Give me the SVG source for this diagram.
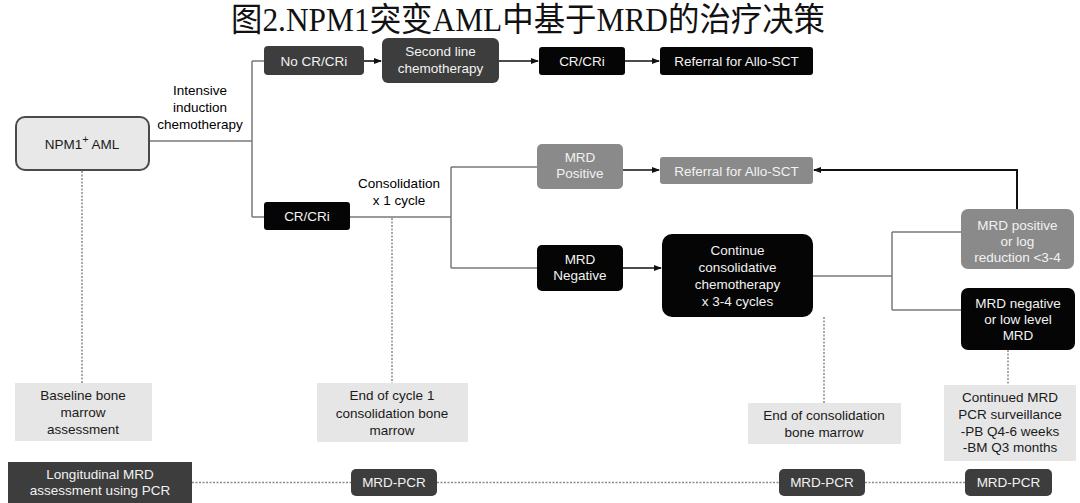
<svg xmlns="http://www.w3.org/2000/svg" width="1080" height="503" viewBox="0 0 1080 503">
<style>
  text { font-family: "Liberation Sans", Arial, sans-serif; font-size: 13.5px; text-anchor: middle; }
  .w { fill: #f2f2f2; }
  .k { fill: #1a1a1a; }
  .dk { fill: #3d3d3d; }
  .bk { fill: #050505; }
  .gr { fill: #8a8a8a; }
  .lt { fill: #e6e6e6; }
  .ln { fill: none; stroke: #7a7a7a; stroke-width: 1.5; }
  .ar { fill: none; stroke: #111; stroke-width: 1.6; marker-end: url(#ah); }
  .dt { fill: none; stroke: #8a8a8a; stroke-width: 1.5; stroke-dasharray: 2 1.5; }
  .title { font-family: "Liberation Serif", "Noto Sans CJK SC", serif; font-size: 33px; fill: #111; }
</style>
<defs>
  <marker id="ah" markerWidth="8" markerHeight="8" refX="7" refY="4" orient="auto" markerUnits="userSpaceOnUse">
    <path d="M0,1 L8,4 L0,7 Z" fill="#111"/>
  </marker>
</defs>
<rect width="1080" height="503" fill="#fff"/>
<text class="title" x="528" y="31" textLength="594" lengthAdjust="spacingAndGlyphs">图2.NPM1突变AML中基于MRD的治疗决策</text>

<g id="connectors">
  <path class="ln" d="M149,141 H252 M252,61 V217 M252,61 H264 M252,217 H264"/>
  <path class="ar" d="M364,61 H381"/>
  <path class="ar" d="M499,61 H538"/>
  <path class="ar" d="M625,61 H659"/>
  <path class="ln" d="M350,217 H451 M451,167 V268 M451,167 H537 M451,268 H537"/>
  <path class="ar" d="M623,170 H659"/>
  <path class="ar" d="M623,268 H661"/>
  <path class="ln" d="M813,276 H892 M892,232 V310 M892,232 H961 M892,310 H961"/>
  <path class="ar" style="stroke-width:2" d="M1017,209 V170 H814"/>
  <path class="dt" d="M82,171 V383 M392,218 V383 M824,317 V403 M1008,350 V385"/>
  <path class="dt" d="M192,482.5 H351 M437,482.5 H779 M865,482.5 H965"/>
  <text x="200" y="95">Intensive</text>
  <text x="200" y="112">induction</text>
  <text x="200" y="129">chemotherapy</text>
  <text x="399" y="188">Consolidation</text>
  <text x="399" y="205">x 1 cycle</text>
</g>

<g id="npm1">
  <rect x="16" y="117" width="133" height="53" rx="9" fill="#e8e8e8" stroke="#4a4a4a" stroke-width="2"/>
  <text class="k" x="82" y="149" font-size="14">NPM1<tspan font-size="11" dy="-6">+</tspan><tspan dy="6"> AML</tspan></text>
</g>
<g id="nocr">
  <rect class="dk" x="264" y="46" width="100" height="29" rx="4"/>
  <text class="w" x="314" y="65.5">No CR/CRi</text>
</g>
<g id="second">
  <rect class="dk" x="382" y="38" width="117" height="45" rx="6"/>
  <text class="w" x="440.5" y="56">Second line</text>
  <text class="w" x="440.5" y="73">chemotherapy</text>
</g>
<g id="crcri1">
  <rect class="bk" x="539" y="47" width="86" height="28" rx="3"/>
  <text class="w" x="582" y="66">CR/CRi</text>
</g>
<g id="referral1">
  <rect class="bk" x="660" y="47" width="153" height="28" rx="3"/>
  <text class="w" x="736.5" y="66" font-size="14">Referral for Allo-SCT</text>
</g>
<g id="crcri2">
  <rect class="bk" x="264" y="202" width="86" height="28" rx="3"/>
  <text class="w" x="307" y="221">CR/CRi</text>
</g>
<g id="mrdpos">
  <rect class="gr" x="537" y="144" width="86" height="45" rx="5"/>
  <text class="w" x="580" y="162">MRD</text>
  <text class="w" x="580" y="178">Positive</text>
</g>
<g id="referral2">
  <rect class="gr" x="660" y="157" width="153" height="27" rx="3"/>
  <text class="w" x="736.5" y="175.5" font-size="14">Referral for Allo-SCT</text>
</g>
<g id="mrdneg">
  <rect class="bk" x="537" y="245" width="86" height="46" rx="5"/>
  <text class="w" x="580" y="264">MRD</text>
  <text class="w" x="580" y="280">Negative</text>
</g>
<g id="continue">
  <rect class="bk" x="662" y="234" width="151" height="83" rx="10"/>
  <text class="w" x="737.5" y="255">Continue</text>
  <text class="w" x="737.5" y="272">consolidative</text>
  <text class="w" x="737.5" y="289">chemotherapy</text>
  <text class="w" x="737.5" y="306">x 3-4 cycles</text>
</g>
<g id="mrdposlog">
  <rect class="gr" x="961" y="209" width="113" height="60" rx="7"/>
  <text class="w" x="1017.5" y="230">MRD positive</text>
  <text class="w" x="1017.5" y="245.5">or log</text>
  <text class="w" x="1017.5" y="262">reduction &lt;3-4</text>
</g>
<g id="mrdneglow">
  <rect class="bk" x="961" y="288" width="114" height="62" rx="7"/>
  <text class="w" x="1018" y="308">MRD negative</text>
  <text class="w" x="1018" y="323.5">or low level</text>
  <text class="w" x="1018" y="339.5">MRD</text>
</g>
<g id="baseline">
  <rect class="lt" x="15" y="383" width="137" height="58"/>
  <text class="k" x="83" y="400">Baseline bone</text>
  <text class="k" x="83" y="417">marrow</text>
  <text class="k" x="83" y="433.5">assessment</text>
</g>
<g id="endcycle1">
  <rect class="lt" x="317" y="383" width="151" height="59"/>
  <text class="k" x="392" y="400">End of cycle 1</text>
  <text class="k" x="392" y="417.5">consolidation bone</text>
  <text class="k" x="392" y="434.5">marrow</text>
</g>
<g id="endcons">
  <rect class="lt" x="748" y="403" width="153" height="41"/>
  <text class="k" x="824" y="419.5">End of consolidation</text>
  <text class="k" x="824" y="436.5">bone marrow</text>
</g>
<g id="continued">
  <rect class="lt" x="944" y="385" width="132" height="76"/>
  <text class="k" x="1010" y="401.5">Continued MRD</text>
  <text class="k" x="1010" y="418.5">PCR surveillance</text>
  <text class="k" x="1010" y="435.5">-PB Q4-6 weeks</text>
  <text class="k" x="1010" y="452">-BM Q3 months</text>
</g>
<g id="longitudinal">
  <rect class="dk" x="8" y="462" width="184" height="42"/>
  <text class="w" x="100" y="478.5">Longitudinal MRD</text>
  <text class="w" x="100" y="495">assessment using PCR</text>
</g>
<g id="pcr1">
  <rect class="dk" x="351" y="469" width="86" height="27" rx="5"/>
  <text class="w" x="394" y="487">MRD-PCR</text>
</g>
<g id="pcr2">
  <rect class="dk" x="779" y="469" width="86" height="27" rx="5"/>
  <text class="w" x="822" y="487">MRD-PCR</text>
</g>
<g id="pcr3">
  <rect class="dk" x="965" y="469" width="87" height="27" rx="5"/>
  <text class="w" x="1008.5" y="487">MRD-PCR</text>
</g>
</svg>
